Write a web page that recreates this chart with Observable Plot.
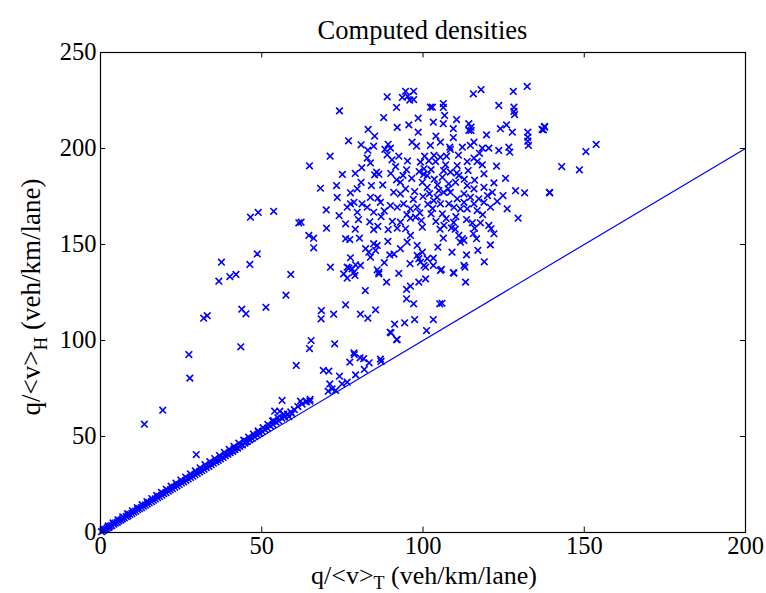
<!DOCTYPE html>
<html>
<head>
<meta charset="utf-8">
<script src="https://cdn.jsdelivr.net/npm/d3@7"></script>
<script src="https://cdn.jsdelivr.net/npm/@observablehq/plot@0.6"></script>
<style>
  html, body { margin: 0; padding: 0; background: #fff; }
  #chart svg { display: block; }
</style>
</head>
<body>
<div id="chart"></div>
<script>
// ---- data ----
const titleText = "Computed densities";
const xTicks = [0, 50, 100, 150, 200];
const yTicks = [0, 50, 100, 150, 200, 250];
const refLineX = [0, 200];
const refLineY = [0, 200];

// dense band of points along q/<v>_H ≈ q/<v>_T
const bandPoints = [
[0.3,0.4],[0.8,0.9],[1.2,1.5],[1.7,1.8],[2.1,2.4],[2.6,2.7],[3.0,3.3],[3.5,3.6],[4.1,4.3],[4.6,4.9],
[5.2,5.3],[5.7,6.0],[6.3,6.5],[6.8,7.1],[7.4,7.6],[8.0,8.3],[8.5,8.7],[9.1,9.4],[9.7,9.9],[10.3,10.6],
[10.9,11.1],[11.5,11.9],[12.1,12.4],[12.7,13.0],[13.3,13.7],[13.9,14.2],[14.5,14.9],[15.1,15.5],[15.8,16.1],[16.4,16.8],
[17.0,17.5],[17.7,18.1],[18.3,18.8],[19.0,19.4],[19.6,20.2],[20.3,20.8],[21.0,21.5],[21.6,22.2],[22.3,22.8],[23.0,23.6],
[23.7,24.3],[24.4,25.0],[25.1,25.8],[25.8,26.4],[26.5,27.2],[27.2,27.9],[27.9,28.7],[28.6,29.3],[29.3,30.1],[30.0,30.8],
[30.7,31.6],[31.4,32.2],[32.1,33.0],[32.8,33.8],[33.6,34.5],[34.3,35.3],[35.0,36.1],[35.8,36.8],[36.5,37.6],[37.2,38.4],
[38.0,39.1],[38.7,40.0],[39.5,40.7],[40.2,41.6],[41.0,42.3],[41.7,43.2],[42.5,43.9],[43.2,44.9],[44.0,45.6],[44.8,46.5],
[45.5,47.3],[46.3,48.2],[47.0,49.0],[47.8,49.9],[48.6,50.8],[49.4,51.6],[50.2,52.5],[51.0,53.6],[51.8,54.3],[52.7,55.4],
[53.5,56.2],[54.4,57.5],[55.3,58.1],[56.2,59.6],[57.1,60.2],[58.0,61.7],[59.0,62.8],[60.1,64.0],[61.2,65.6],[62.5,66.9],
[63.8,68.0],[65.0,69.3],[53.6,58.3],[49.0,52.2],[45.0,47.6],[41.4,43.5]
];
// second, slightly higher row of the same band
const bandUpperPoints = [
[0.9,1.8],[2.4,3.4],[3.9,5.0],[5.4,6.6],[6.9,8.2],[8.4,9.8],[9.9,11.3],[11.4,12.9],[12.9,14.5],[14.4,16.1],
[15.9,17.7],[17.4,19.3],[18.9,20.9],[20.4,22.5],[21.9,24.1],[23.4,25.7],[24.9,27.3],[26.4,28.9],[27.9,30.5],[29.4,32.1],
[30.9,33.7],[32.4,35.3],[33.9,36.9],[35.4,38.5],[36.9,40.1],[38.4,41.7],[39.9,43.3],[41.4,44.9],[42.9,46.5],[44.4,48.1],
[45.9,49.7],[47.4,51.3],[48.9,52.9],[50.4,54.6],[51.9,56.3],[53.4,58.0],[55.0,59.8],[56.8,61.6]
];

// sparse points left of the main cloud
const sparsePoints = [
[46.5,164.2],[48.9,166.7],[53.7,167.3],[61.5,161.3],[48.6,145.1],[37.5,140.8],[46.3,139.6],[40.1,133.3],
[42.0,134.4],[36.7,130.9],[59.0,134.4],[57.5,123.6],[43.8,116.3],[45.1,113.9],[51.3,117.3],[32.0,111.6],
[33.1,112.9],[43.5,96.7],[27.4,92.7],[27.7,80.4],[60.7,87.0],[19.3,63.7],[13.6,56.4],[56.3,68.8],
[54.0,63.2],[55.6,63.2],[29.7,40.6]
];

// points just above the diagonal, 55–95
const nearLinePoints = [
[65.3,100.0],[64.8,95.8],[72.6,98.3],[89.8,104.3],[92.0,100.5],[78.7,92.7],[77.3,88.7],[80.5,91.0],
[81.6,90.5],[83.3,88.4],[86.8,90.3],[87.0,89.1],[69.1,84.4],[70.8,84.0],[74.1,81.4],[79.1,82.1],
[81.8,84.9],[71.1,77.4],[70.6,73.6],[71.8,74.8],[72.9,74.0],[74.9,77.4],[76.5,78.3],[62.0,68.4],
[63.8,68.4],[64.9,68.4],[59.4,61.8],[58.4,60.4]
];

// main cloud
const cloudPoints = [
[88.9,226.9],[94.6,229.8],[97.1,229.8],[95.3,227.2],[97.1,225.5],[93.6,226.6],[95.9,225.2],[91.8,221.4],
[74.1,219.6],[87.8,216.1],[83.0,209.9],[95.6,212.3],[98.5,215.8],[98.5,208.5],[102.3,221.5],[115.6,228.5],
[118.0,230.7],[128.0,229.7],[132.3,232.3],[123.5,222.4],[128.2,221.5],[128.2,219.3],[128.4,217.7],[106.3,223.4],
[106.3,221.4],[102.9,221.5],[106.7,217.2],[106.3,212.9],[103.2,213.7],[110.4,215.1],[109.4,210.3],[109.4,205.7],
[114.2,212.9],[114.9,211.1],[114.2,209.4],[114.9,209.4],[119.7,207.1],[124.0,210.3],[125.9,212.3],[127.7,208.5],
[132.5,208.5],[132.5,205.9],[132.5,203.8],[132.7,201.6],[136.9,209.9],[137.7,211.1],[137.3,209.7],[137.7,211.5],
[76.9,204.0],[80.8,201.9],[84.7,201.2],[82.9,199.1],[89.2,202.2],[88.2,199.6],[89.9,200.2],[88.9,196.7],
[90.4,194.1],[96.6,203.3],[98.0,201.2],[71.2,196.0],[64.8,191.0],[82.7,195.0],[83.7,192.5],[85.6,187.7],
[86.3,186.6],[85.0,186.3],[94.9,188.9],[102.3,201.6],[105.4,203.3],[108.3,200.7],[108.5,199.5],[112.2,200.7],
[114.7,201.6],[115.8,203.3],[118.4,200.2],[120.4,200.2],[123.5,199.0],[126.6,200.7],[126.9,198.1],[103.4,196.4],
[105.4,195.5],[107.3,196.0],[103.9,193.2],[107.0,191.5],[110.6,191.1],[113.7,193.2],[115.8,195.0],[116.8,193.2],
[118.4,191.5],[122.8,190.8],[125.6,184.5],[131.5,176.9],[139.3,176.9],[124.8,175.5],[126.1,168.6],[118.9,186.8],
[122.0,182.1],[118.9,179.8],[121.5,177.2],[108.5,187.7],[111.1,185.9],[110.1,182.4],[108.0,181.6],[106.0,185.0],
[106.4,188.5],[99.2,192.9],[100.3,189.4],[101.3,185.9],[99.8,182.4],[101.3,179.8],[143.0,190.6],[148.5,188.9],
[150.5,198.4],[153.7,202.1],[139.2,177.2],
[68.2,179.3],[73.2,180.7],[73.4,174.5],[80.8,182.4],[79.6,179.0],[77.5,176.9],[78.6,172.0],[81.1,171.2],
[84.0,180.7],[83.7,174.6],[86.0,174.1],[86.8,172.0],[91.8,183.7],[93.0,182.4],[90.9,177.2],[93.0,176.4],
[94.6,179.0],[97.4,177.6],[89.9,170.3],[92.0,169.4],[94.0,171.2],[96.1,168.6],[98.2,169.4],[82.7,169.4],
[84.7,166.8],[76.5,169.4],[79.6,166.8],[77.5,171.2],
[113.7,180.7],[115.8,179.0],[112.7,176.4],[114.7,174.6],[117.3,173.8],[115.8,171.2],[118.9,172.0],[112.7,172.0],
[110.6,173.8],[108.5,177.2],[106.4,177.2],[104.9,178.1],[104.4,174.6],[103.3,172.9],[105.4,171.2],[108.0,171.2],
[109.6,169.4],[111.6,168.6],[113.7,168.6],[116.8,167.7],[120.9,169.4],
[100.5,196.0],[101.8,193.6],[102.5,189.0],[100.2,186.5],[103.5,184.0],[102.0,176.5],[100.0,175.0],[101.5,171.0],
[99.0,166.5],[102.5,166.0],
[129.5,163.7],[120.9,149.8],[116.6,153.0],[115.6,155.6],[111.1,154.7],[112.2,153.0],[111.6,151.2],[112.7,152.1],
[121.1,158.2],[122.0,155.6],[120.4,159.9],[117.8,161.3],[115.3,161.3],[113.5,144.6],[112.7,139.1],[113.0,138.2],
[113.2,130.4],[109.4,135.3],[105.7,137.0],[103.2,142.9],[103.2,139.1],[104.6,148.6],[106.3,153.3],[105.2,119.1],
[103.2,110.9],[105.9,119.4],[104.0,162.0],[107.2,163.5],[109.5,161.5],[110.2,164.5],[106.5,160.0],[108.8,158.6],
[105.3,158.0],
[62.2,161.6],[70.1,158.5],[76.0,160.8],[64.6,154.7],[66.1,153.3],[66.1,148.3],[76.0,153.0],[77.3,152.6],
[80.3,153.3],[71.3,138.2],[77.5,143.1],[77.0,137.7],[78.0,137.3],[79.1,139.4],[80.6,139.1],[76.5,132.5],
[78.9,133.9],[82.2,147.8],[83.7,143.4],[85.3,146.9],[85.8,149.5],[84.7,157.8],[89.2,157.8],[89.1,151.6],
[89.7,144.6],[85.8,136.8],[86.3,134.7],[88.7,130.4],[82.1,126.0],[76.0,118.6],[80.6,113.7],[82.9,111.6],
[85.3,116.0],[68.5,115.6],[68.4,111.3],[72.3,113.7],[78.6,93.6],[91.2,108.5],[94.3,109.2],[97.4,110.9],
[90.1,104.0],[91.8,100.5],[94.9,121.7],[97.1,119.1],[94.9,126.6],[96.1,128.3],[98.7,130.4],[100.8,132.1],
[101.1,105.2],[93.0,161.6],[94.6,158.2],[96.1,154.7],[93.0,147.8],[95.1,151.2],[98.2,149.5],[99.8,146.0],
[98.7,142.6],[101.3,142.6],[100.3,139.1],[97.7,164.2],[96.1,163.7],[99.8,159.0],[98.2,144.3],[99.2,140.8],
[80.0,163.0],[83.5,161.8],[87.0,164.5],[90.5,162.0],[86.0,159.5],[79.0,158.0],[76.5,138.2],[78.6,135.6],
[75.4,134.7],[86.3,135.6],[100.8,138.2],[105.4,136.5],[109.6,135.1],[83.2,146.0],[84.7,150.4],
[91.5,190.5],[93.8,186.0],[96.5,184.5],[98.8,188.0],[95.2,193.5],[92.5,196.0],[104.5,181.0],[107.8,179.0],
[110.5,187.2],[112.8,184.0],[116.0,183.5],[114.0,188.5],[97.0,173.5],[99.5,162.5],[95.0,165.5],[92.0,158.5],
[88.0,167.5],[90.0,187.0],[87.5,181.0],[103.0,168.8],[106.0,166.0],[110.0,158.0],[113.5,163.0],[116.0,158.5],
[118.5,165.5],[120.0,175.5],[123.0,172.5],[117.5,197.5],[111.0,196.5],[104.0,206.5],[92.0,211.0],[85.0,206.5],
[81.0,190.0],[79.0,187.0],[75.0,186.5],[74.0,165.0],[70.0,168.0],[92.5,135.0],[96.0,140.0],[91.0,145.0],
[88.0,140.5],[109.0,146.0],[117.0,147.0],[119.0,141.0],[128.7,178.0]
];

const font = "'Liberation Serif', 'Times New Roman', serif";

const chart = Plot.plot({
  width: 766,
  height: 593,
  marginLeft: 100,
  marginRight: 21,
  marginTop: 52,
  marginBottom: 61,
  style: { fontFamily: font, fontSize: "24px", color: "black", background: "white", overflow: "visible" },
  x: { domain: [0, 200], label: null },
  y: { domain: [0, 250], label: null },
  marks: [
    Plot.line(refLineX.map((x, i) => [x, refLineY[i]]), { x: d => d[0], y: d => d[1], stroke: "#0000ff", strokeWidth: 1.2 }),
    Plot.dot([...bandPoints, ...bandUpperPoints, ...sparsePoints, ...nearLinePoints, ...cloudPoints], {
      x: d => d[0], y: d => d[1], symbol: "times", r: 3.1, stroke: "#0000ff", strokeWidth: 1.6
    }),
    Plot.frame({ stroke: "black", strokeWidth: 1.2 }),
    Plot.ruleX(xTicks, { x: d => d, y1: 0, y2: 2.8, stroke: "black" }),
    Plot.ruleX(xTicks, { x: d => d, y1: 250, y2: 247.2, stroke: "black" }),
    Plot.ruleY(yTicks, { y: d => d, x1: 0, x2: 1.6, stroke: "black" }),
    Plot.ruleY(yTicks, { y: d => d, x1: 200, x2: 198.4, stroke: "black" }),
    Plot.axisX(xTicks, { tickSize: 0, tickPadding: 4, fontSize: 24.5, label: null }),
    Plot.axisY(yTicks, { tickSize: 0, tickPadding: 4, fontSize: 24.5, label: null })
  ]
});

document.getElementById("chart").appendChild(chart);

// title and axis labels with subscripts
const svg = d3.select(chart);
svg.append("text")
  .attr("x", 422.5).attr("y", 39)
  .attr("text-anchor", "middle").attr("font-family", font).attr("font-size", 26.5).attr("fill", "black")
  .text(titleText);

const xl = svg.append("text")
  .attr("x", 424).attr("y", 584)
  .attr("text-anchor", "middle").attr("font-family", font).attr("font-size", 26).attr("fill", "black");
xl.append("tspan").text("q/<v>");
xl.append("tspan").attr("dy", 5).attr("font-size", 18).text("T");
xl.append("tspan").attr("dy", -5).text(" (veh/km/lane)");

const yl = svg.append("text")
  .attr("transform", "translate(40,297) rotate(-90)")
  .attr("text-anchor", "middle").attr("font-family", font).attr("font-size", 27).attr("fill", "black");
yl.append("tspan").text("q/<v>");
yl.append("tspan").attr("dy", 7).attr("font-size", 19).text("H");
yl.append("tspan").attr("dy", -7).text(" (veh/km/lane)");
</script>
</body>
</html>
